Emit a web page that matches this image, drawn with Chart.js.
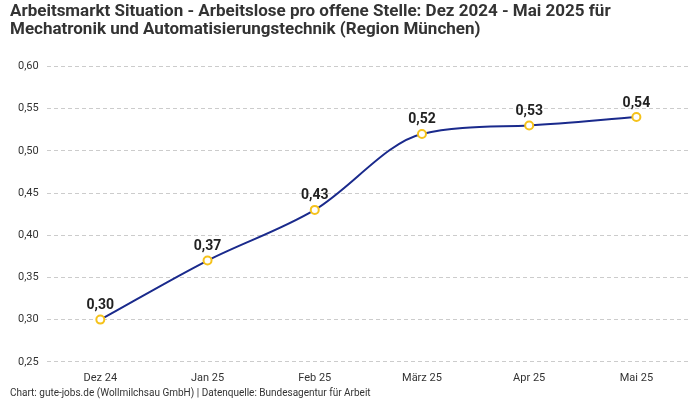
<!DOCTYPE html>
<html>
<head>
<meta charset="utf-8">
<script src="https://cdn.jsdelivr.net/npm/chart.js@4"></script>
<style>
	body { margin: 0; background: #fff; }
	.wrap { position: relative; width: 700px; height: 400px; }
	.footer { position: absolute; left: 10px; top: 387px; font-family: Roboto, sans-serif; font-size: 10px; color: #333; }
</style>
</head>
<body>
<div class="wrap">
	<canvas id="myChart" width="700" height="400"></canvas>
	<div class="footer">Chart: gute-jobs.de (Wollmilchsau GmbH) | Datenquelle: Bundesagentur für Arbeit</div>
</div>
<script>
// months and values
const labels = ['Dez 24', 'Jan 25', 'Feb 25', 'März 25', 'Apr 25', 'Mai 25'];
const values = [0.30, 0.37, 0.43, 0.52, 0.53, 0.54];
const titleLines = [
	'Arbeitsmarkt Situation - Arbeitslose pro offene Stelle: Dez 2024 - Mai 2025 für',
	'Mechatronik und Automatisierungstechnik (Region München)'
];

const fmt = v => v.toFixed(2).replace('.', ',');

// value labels above points
const valueLabels = {
	id: 'valueLabels',
	afterDatasetsDraw(chart) {
		const ctx = chart.ctx;
		const meta = chart.getDatasetMeta(0);
		ctx.save();
		ctx.font = 'bold 14px Roboto, sans-serif';
		ctx.fillStyle = '#222';
		ctx.textAlign = 'center';
		ctx.textBaseline = 'bottom';
		meta.data.forEach((pt, i) => {
			ctx.fillText(fmt(values[i]), pt.x, pt.y - 7);
		});
		ctx.restore();
	}
};

const config = {
	type: 'line',
	data: {
		labels: labels,
		datasets: [{
			data: values,
			borderColor: '#1a2a8c',
			borderWidth: 2,
			cubicInterpolationMode: 'monotone',
			pointRadius: 4,
			pointBorderWidth: 2,
			pointBackgroundColor: '#fff',
			pointBorderColor: '#f5c21b',
			fill: false
		}]
	},
	options: {
		responsive: false,
		animation: false,
		layout: { padding: { left: 10, right: 10, bottom: 13 } },
		scales: {
			x: {
				offset: true,
				grid: { display: false },
				border: { display: false },
				ticks: { color: '#333', padding: 2, font: { family: 'Roboto', size: 11 } }
			},
			y: {
				min: 0.25,
				max: 0.60,
				border: { display: false, dash: [4, 3] },
				grid: { color: '#cccccc', drawTicks: false },
				ticks: {
					stepSize: 0.05,
					padding: 8,
					color: '#333',
					font: { family: 'Roboto', size: 11 },
					callback: v => fmt(v)
				}
			}
		},
		plugins: {
			legend: { display: false },
			tooltip: { enabled: false },
			title: {
				display: true,
				text: titleLines,
				align: 'start',
				color: '#333',
				font: { family: 'Roboto', size: 17, weight: 'bold', lineHeight: 1.1 },
				padding: { top: 2, bottom: 27 }
			}
		}
	},
	plugins: [valueLabels]
};

document.addEventListener('DOMContentLoaded', () => {
	const ctx = document.getElementById('myChart').getContext('2d');
	new Chart(ctx, config);
});
</script>
</body>
</html>
